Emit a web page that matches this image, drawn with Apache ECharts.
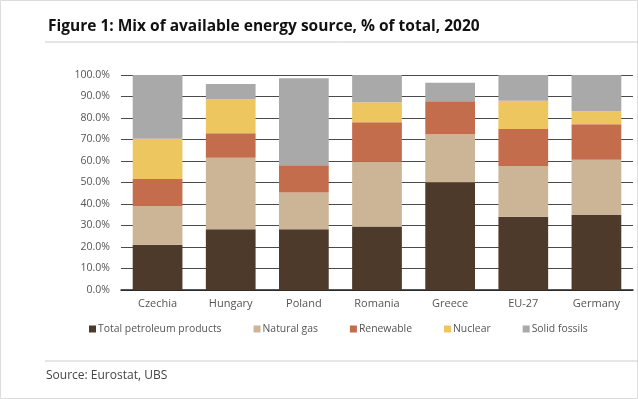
<!DOCTYPE html>
<html>
<head>
<meta charset="utf-8">
<script src="https://cdn.jsdelivr.net/npm/echarts@6/dist/echarts.min.js"></script>
<style>
html,body{margin:0;padding:0;background:#fff;}
#chart{width:638px;height:399px;}
</style>
</head>
<body>
<div id="chart"></div>
<script>
const categories = ['Czechia','Hungary','Poland','Romania','Greece','EU-27','Germany'];
const petroleum  = [21.0, 28.2, 28.2, 29.5, 50.1, 34.1, 34.9];
const naturalGas = [18.1, 33.3, 17.1, 30.2, 22.3, 23.6, 25.7];
const renewable  = [12.5, 11.4, 12.7, 18.3, 15.4, 17.2, 16.5];
const nuclear    = [18.8, 15.8, 0,    9.3,  0,    13.1, 6.0];
const solid      = [29.6, 7.1,  40.5, 12.7, 8.6,  12.0, 16.9];
const seriesNames = ['Total petroleum products','Natural gas','Renewable','Nuclear','Solid fossils'];
const yTicks = [0,10,20,30,40,50,60,70,80,90,100];

const colors = ['#4d3a2a','#cbb596','#c46d4d','#eec660','#a9a9a9'];
const dataSets = [petroleum, naturalGas, renewable, nuclear, solid];
const font = '"Open Sans", "Noto Sans", sans-serif';

const chart = echarts.init(document.getElementById('chart'), null, {renderer:'canvas'});
chart.setOption({
  animation:false,
  backgroundColor:'#fff',
  color: colors,
  title:{
    text:'Figure 1: Mix of available energy source, % of total, 2020',
    left:43, top:14,
    textStyle:{fontFamily:font, fontSize:15.5, fontWeight:'bold', color:'#111'}
  },
  legend:{
    left:84, top:319,
    itemWidth:7, itemHeight:7, itemGap:32,
    icon:'rect',
    textStyle:{fontFamily:font, fontSize:10.4, color:'#555', padding:[0,0,0,-3]},
    data: seriesNames
  },
  grid:{left:121, right:5, top:75, bottom:109, containLabel:false},
  xAxis:{
    type:'category', data:categories,
    axisLine:{lineStyle:{color:'#222', width:1.5}},
    axisTick:{show:false},
    axisLabel:{fontFamily:font, fontSize:11, color:'#555', margin:8}
  },
  yAxis:{
    type:'value', min:0, max:100, interval:10,
    axisLine:{show:false}, axisTick:{show:false},
    splitLine:{lineStyle:{color:'#4a4a4a', width:1}},
    axisLabel:{fontFamily:font, fontSize:10.5, color:'#555', margin:11,
      formatter:v => yTicks.includes(v) ? v.toFixed(1)+'%' : ''}
  },
  series: seriesNames.map((n,i)=>({
    name:n, type:'bar', stack:'total', data:dataSets[i],
    barCategoryGap:'32%',
    itemStyle:{color:colors[i]}
  })),
  graphic:[
    {type:'rect', shape:{x:0.5,y:0.5,width:637,height:398}, style:{fill:null, stroke:'#ddd', lineWidth:1}, silent:true},
    {type:'line', shape:{x1:45,y1:42,x2:638,y2:42}, style:{stroke:'#ccc', lineWidth:1}, silent:true},
    {type:'line', shape:{x1:45,y1:361,x2:638,y2:361}, style:{stroke:'#ccc', lineWidth:1}, silent:true},
    {type:'text', left:46, top:370, style:{text:'Source: Eurostat, UBS', font:'12px "Open Sans", "Noto Sans", sans-serif', fill:'#444'}, silent:true}
  ]
});
</script>
</body>
</html>
